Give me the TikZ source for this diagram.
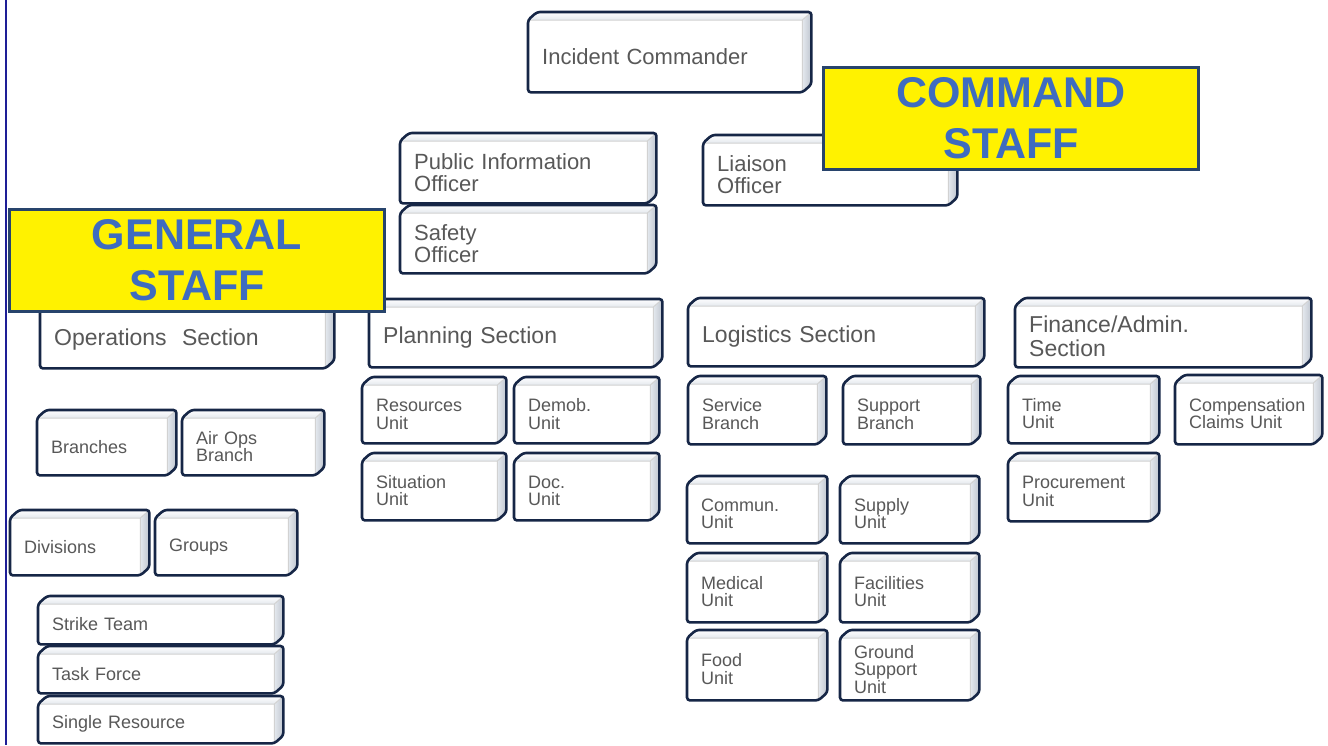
\documentclass[tikz,border=0pt]{standalone}
\usepackage{fontspec}
\setmainfont{Liberation Sans}
\usepackage{tikz}
\usetikzlibrary{positioning}
\definecolor{navy}{RGB}{22,38,70}
\definecolor{bevtop}{RGB}{228,232,238}
\definecolor{bevside}{RGB}{190,196,206}
\definecolor{boxtext}{RGB}{88,88,88}
\definecolor{staffblue}{RGB}{62,108,192}
\definecolor{staffline}{RGB}{40,68,108}
\definecolor{edgeblue}{RGB}{30,30,150}
\tikzset{
    unit/.style={rectangle,fill=white,anchor=north west,inner xsep=14pt,inner ysep=0pt,
        align=left,text=boxtext,font=\fontsize{18}{17.5}\selectfont},
    officer/.style={unit,font=\fontsize{22}{22}\selectfont},
    section/.style={unit,font=\fontsize{23}{24}\selectfont},
    wh/.code 2 args={\pgfmathsetmacro\boxtw{#1-28}\global\let\boxtw\boxtw
        \tikzset{minimum width=#1pt,minimum height=#2pt,text width=\boxtw pt}},
    staff/.style={rectangle,draw=staffline,line width=3pt,fill=yellow,anchor=north west,
        inner sep=0pt,align=center,text=staffblue,font=\fontsize{43}{51}\selectfont\bfseries},
    rim/.style={draw=navy,line width=2.6pt,rounded corners=3pt},
    seam/.style={draw=white!65!gray,line width=1pt},
}

\begin{document}
\begin{tikzpicture}[x=1pt,y=-1pt]
            \useasboundingbox (0,0) rectangle (1328,745);
            \draw[edgeblue,line width=1.5pt] (6,0) -- (6,745);

            \node[officer,wh={274}{72}] (ic) at (528,20) {Incident Commander};
            \node[officer,wh={247}{62}] (pio) at (400,141) {Public Information\\Officer};
            \node[officer,wh={247}{60}] (safety) at (400,213) {Safety\\Officer};
            \node[officer,wh={245}{62}] (liaison) at (703,143) {Liaison\\Officer};

            \node[section,wh={285}{58}] (ops) at (40,310) {Operations\ \ Section};
            \node[section,wh={284}{60}] (plan) at (369,307) {Planning\ Section};
            \node[section,wh={287}{60}] (log) at (688,306) {Logistics Section};
            \node[section,wh={287}{61}] (fin) at (1015,306) {Finance/Admin.\\Section};

            \node[unit,wh={130}{57}] (branches) at (37,418) {Branches};
            \node[unit,wh={133}{57}] (airops) at (182,418) {Air Ops\\Branch};
            \node[unit,wh={130}{57}] (divisions) at (10,518) {Divisions};
            \node[unit,wh={133}{57}] (groups) at (155,518) {Groups};
            \node[unit,wh={236}{40}] (strike) at (38,604) {Strike Team};
            \node[unit,wh={236}{39}] (task) at (38,654) {Task Force};
            \node[unit,wh={236}{39}] (single) at (38,704) {Single Resource};

            \node[unit,wh={135}{58}] (resources) at (362,385) {Resources\\Unit};
            \node[unit,wh={136}{58}] (demob) at (514,385) {Demob.\\Unit};
            \node[unit,wh={135}{59}] (situation) at (362,461) {Situation\\Unit};
            \node[unit,wh={136}{59}] (doc) at (514,461) {Doc.\\Unit};

            \node[unit,wh={129}{60}] (service) at (688,384) {Service\\Branch};
            \node[unit,wh={128}{60}] (support) at (843,384) {Support\\Branch};
            \node[unit,wh={131}{59}] (commun) at (687,484) {Commun.\\Unit};
            \node[unit,wh={130}{59}] (supply) at (840,484) {Supply\\Unit};
            \node[unit,wh={131}{61}] (medical) at (687,561) {Medical\\Unit};
            \node[unit,wh={130}{61}] (facilities) at (840,561) {Facilities\\Unit};
            \node[unit,wh={131}{62}] (food) at (687,638) {Food\\Unit};
            \node[unit,wh={130}{62}] (ground) at (840,638) {Ground\\Support\\Unit};

            \node[unit,wh={142}{59}] (time) at (1008,384) {Time\\Unit};
            \node[unit,wh={138}{61}] (comp) at (1175,383) {Compensation\\Claims Unit};
            \node[unit,wh={142}{60}] (proc) at (1008,461) {Procurement\\Unit};

            \foreach \n in {ic,pio,safety,liaison,ops,plan,log,fin,branches,airops,divisions,
                groups,strike,task,single,resources,demob,situation,doc,service,support,
                commun,supply,medical,facilities,food,ground,time,comp,proc}{
                \shade[top color=white,bottom color=bevtop] (\n.north west) -- ([shift={(9,-8)}]\n.north west)
                    -- ([shift={(9,-8)}]\n.north east) -- (\n.north east) -- cycle;
                \shade[left color=bevtop,right color=bevside] (\n.north east) -- ([shift={(9,-8)}]\n.north east)
                    -- ([shift={(9,-8)}]\n.south east) -- (\n.south east) -- cycle;
                \draw[seam] (\n.north west) -- (\n.north east) -- (\n.south east)
                    (\n.north east) -- ([shift={(9,-8)}]\n.north east);
                \draw[rim] (\n.north west) -- ([shift={(9,-8)}]\n.north west) -- ([shift={(9,-8)}]\n.north east)
                    -- ([shift={(9,-8)}]\n.south east) -- (\n.south east) -- (\n.south west) -- cycle;
            }

            \node[staff,minimum width=375pt,minimum height=102pt] (cmdstaff) at (822,66) {COMMAND\\STAFF};
            \node[staff,minimum width=375pt,minimum height=102pt] (genstaff) at (8,208) {GENERAL\\STAFF};
        \end{tikzpicture}
\end{document}
